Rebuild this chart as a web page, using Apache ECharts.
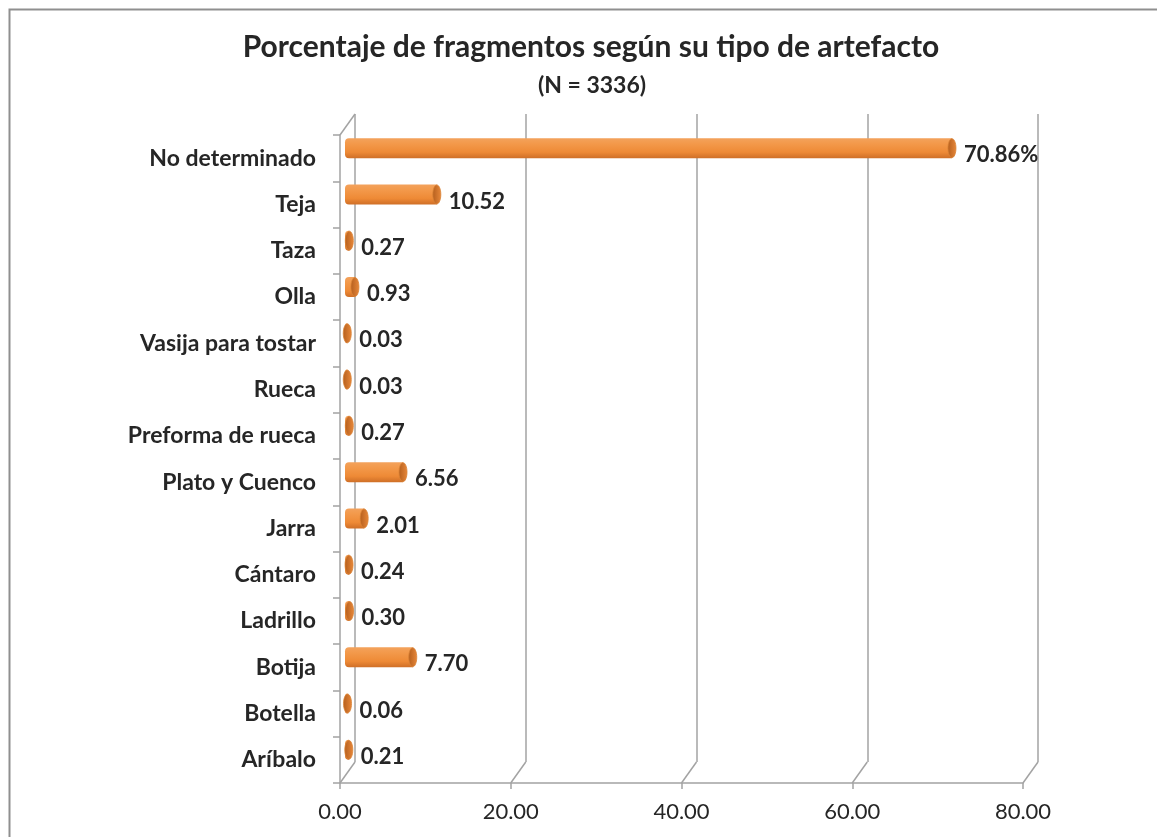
<!DOCTYPE html>
<html>
<head>
<meta charset="utf-8">
<script src="https://cdn.jsdelivr.net/npm/echarts@6/dist/echarts.min.js"></script>
<style>
html,body{margin:0;padding:0;background:#fff;}
#chart{width:1157px;height:837px;}
</style>
</head>
<body>
<div id="chart"></div>
<script>
const titleText = 'Porcentaje de fragmentos según su tipo de artefacto';
const subtitleText = '(N = 3336)';
const categories = ['No determinado','Teja','Taza','Olla','Vasija para tostar','Rueca','Preforma de rueca','Plato y Cuenco','Jarra','Cántaro','Ladrillo','Botija','Botella','Aríbalo'];
const values = [70.86,10.52,0.27,0.93,0.03,0.03,0.27,6.56,2.01,0.24,0.30,7.70,0.06,0.21];
const valueLabels = ['70.86%','10.52','0.27','0.93','0.03','0.03','0.27','6.56','2.01','0.24','0.30','7.70','0.06','0.21'];
const xTicks = [0,20,40,60,80];

const FONT = 'Lato, "Open Sans", sans-serif';
const GRID_COLOR = '#a3a3a3';
const DEPTH_X = 15, DEPTH_Y = -21;

const chart = echarts.init(document.getElementById('chart'));

function frameItem(params, api) {
  const v = api.value(0);
  const top = api.value(1) === 1;
  const n = categories.length;
  const c0 = api.coord([v, 0]);
  const c1 = api.coord([v, 1]);
  const band = c1[1] - c0[1];
  let x, y;
  if (top) { x = c0[0]; y = c0[1] - band / 2; }
  else { const cl = api.coord([v, n - 1]); x = cl[0]; y = cl[1] + band / 2; }
  return {
    type: 'line',
    shape: {x1: x, y1: y, x2: x + DEPTH_X, y2: y + DEPTH_Y},
    style: {stroke: GRID_COLOR, lineWidth: 1.5}
  };
}

function barItem(params, api) {
  const val = api.value(0);
  const idx = api.value(1);
  const p0 = api.coord([0, idx]);
  const p1 = api.coord([val, idx]);
  const dx = 7, dy = -10, h = 20;
  const x0 = p0[0] + dx, x1 = p1[0] + dx, cy = p0[1] + dy;
  const w = Math.max(x1 - x0, 0);
  return {
    type: 'group',
    children: [
      {
        type: 'rect',
        shape: {x: x0 - 2, y: cy - h / 2, width: w + 2, height: h, r: [4, 0, 0, 4]},
        style: {
          fill: new echarts.graphic.LinearGradient(0, 0, 0, 1, [
            {offset: 0, color: '#f3a25c'},
            {offset: 0.25, color: '#f39a4c'},
            {offset: 0.7, color: '#ee8a36'},
            {offset: 1, color: '#cf6f27'}
          ])
        }
      },
      {
        type: 'ellipse',
        shape: {cx: x1, cy: cy, rx: 4, ry: h / 2 - 0.5},
        style: {
          fill: new echarts.graphic.LinearGradient(0, 0, 1, 0, [
            {offset: 0, color: '#b45e1d'},
            {offset: 1, color: '#e8883a'}
          ]),
          stroke: '#d98336', lineWidth: 0.8
        }
      },
      {
        type: 'text',
        style: {
          x: x1 + 12, y: cy + 7,
          text: valueLabels[idx],
          font: 'bold 22px ' + FONT,
          fill: '#262626',
          textVerticalAlign: 'middle', verticalAlign: 'middle'
        }
      }
    ]
  };
}

const option = {
  backgroundColor: '#ffffff',
  animation: false,
  title: [
    {text: titleText, left: 586, top: 27, textAlign: 'center',
     textStyle: {fontFamily: FONT, fontWeight: 'bold', fontSize: 30, color: '#262626'}},
    {text: subtitleText, left: 587, top: 69, textAlign: 'center',
     textStyle: {fontFamily: FONT, fontWeight: 'bold', fontSize: 23, color: '#262626'}}
  ],
  graphic: [
    {type: 'rect', left: 7, top: 7, shape: {width: 1200, height: 900},
     style: {fill: 'none', stroke: '#8f8f8f', lineWidth: 2}, silent: true, z: -10}
  ],
  grid: [
    {left: 340, top: 135, width: 683, height: 648},
    {left: 340 + DEPTH_X, top: 135 + DEPTH_Y, width: 683, height: 648}
  ],
  xAxis: [
    {
      gridIndex: 0, type: 'value', min: 0, max: 80, interval: 20,
      axisLine: {show: true, lineStyle: {color: GRID_COLOR, width: 1.5}},
      axisTick: {show: true, length: 6, lineStyle: {color: GRID_COLOR, width: 1.5}},
      axisLabel: {formatter: v => v.toFixed(2), fontFamily: FONT, fontSize: 22, color: '#262626', margin: 18},
      splitLine: {show: false}
    },
    {
      gridIndex: 1, type: 'value', min: 0, max: 80, interval: 20,
      axisLine: {show: false}, axisTick: {show: false}, axisLabel: {show: false},
      splitLine: {show: true, showMinLine: true, showMaxLine: true, lineStyle: {color: GRID_COLOR, width: 1.5}}
    }
  ],
  yAxis: [
    {
      gridIndex: 0, type: 'category', data: categories, inverse: true,
      axisLine: {show: true, lineStyle: {color: GRID_COLOR, width: 1.5}},
      axisTick: {show: true, length: 7, lineStyle: {color: GRID_COLOR, width: 1.5}},
      axisLabel: {fontFamily: FONT, fontWeight: 'bold', fontSize: 23, color: '#262626', margin: 24},
      splitLine: {show: false}
    },
    {
      gridIndex: 1, type: 'category', data: categories, inverse: true,
      axisLine: {show: false}, axisTick: {show: false}, axisLabel: {show: false},
      splitLine: {show: false}
    }
  ],
  series: [
    {
      type: 'custom', xAxisIndex: 0, yAxisIndex: 0, z: 1,
      renderItem: frameItem,
      data: xTicks.map(v => [v, 0]).concat([[0, 1]]),
      silent: true
    },
    {
      type: 'custom', xAxisIndex: 0, yAxisIndex: 0, z: 5,
      renderItem: barItem,
      encode: {x: 0, y: 1},
      data: values.map((v, i) => [v, i]),
      clip: false
    }
  ]
};
chart.setOption(option);
</script>
</body>
</html>
